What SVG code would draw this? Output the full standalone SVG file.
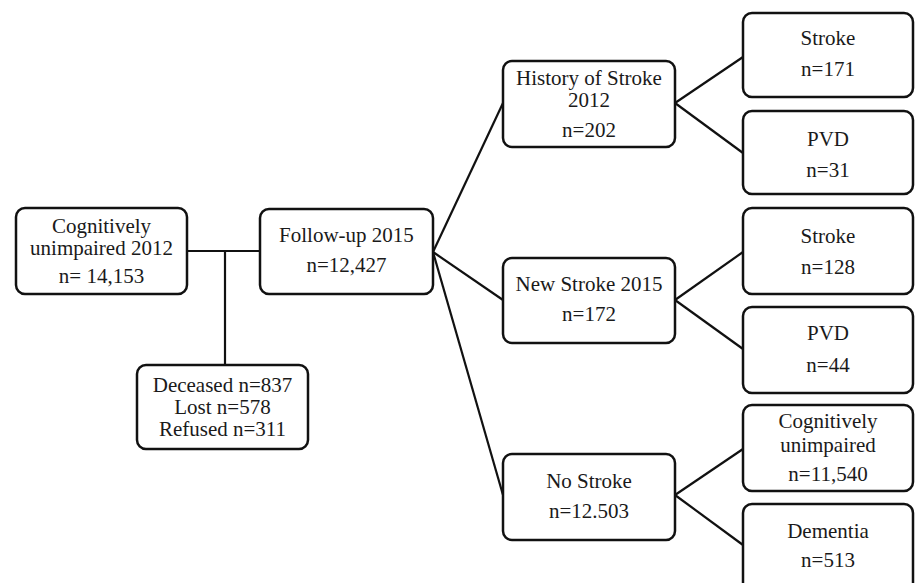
<svg xmlns="http://www.w3.org/2000/svg" width="915" height="583" viewBox="0 0 915 583">
<style>
.box{fill:#fff;stroke:#111;stroke-width:2.5}
.t{font-family:"Liberation Serif","Times New Roman","DejaVu Serif",serif;font-size:21px;fill:#1a1a1a;text-anchor:middle}
.c{stroke:#111;stroke-width:2.2;fill:none}
</style>
<rect width="915" height="583" fill="#fff"/>
<g id="connectors">
<line class="c" x1="187" y1="251" x2="260" y2="251"/>
<line class="c" x1="225" y1="251" x2="225" y2="365"/>
<line class="c" x1="433" y1="252" x2="503" y2="103"/>
<line class="c" x1="433" y1="252" x2="503" y2="300"/>
<line class="c" x1="433" y1="252" x2="503" y2="495"/>
<line class="c" x1="675" y1="103" x2="743" y2="57"/>
<line class="c" x1="675" y1="103" x2="743" y2="153"/>
<line class="c" x1="675" y1="300" x2="743" y2="252"/>
<line class="c" x1="675" y1="300" x2="743" y2="349"/>
<line class="c" x1="675" y1="495" x2="743" y2="449"/>
<line class="c" x1="675" y1="495" x2="743" y2="545"/>
</g>
<g id="baseline2012">
<rect class="box" x="16" y="208" width="171" height="86" rx="9"/>
<text class="t" x="101.5" y="233">Cognitively</text>
<text class="t" x="101.5" y="255">unimpaired 2012</text>
<text class="t" x="101.5" y="283">n= 14,153</text>
</g>
<g id="excluded">
<rect class="box" x="137" y="365" width="171" height="84" rx="9"/>
<text class="t" x="222.5" y="392">Deceased n=837</text>
<text class="t" x="222.5" y="414">Lost n=578</text>
<text class="t" x="222.5" y="436">Refused n=311</text>
</g>
<g id="followup">
<rect class="box" x="260" y="209" width="173" height="85" rx="9"/>
<text class="t" x="346.5" y="242">Follow-up 2015</text>
<text class="t" x="346.5" y="272">n=12,427</text>
</g>
<g id="history">
<rect class="box" x="503" y="61" width="172" height="86" rx="9"/>
<text class="t" x="589" y="85">History of Stroke</text>
<text class="t" x="589" y="107">2012</text>
<text class="t" x="589" y="137">n=202</text>
</g>
<g id="newstroke">
<rect class="box" x="503" y="258" width="172" height="85" rx="9"/>
<text class="t" x="589" y="291">New Stroke 2015</text>
<text class="t" x="589" y="321">n=172</text>
</g>
<g id="nostroke">
<rect class="box" x="503" y="454" width="172" height="86" rx="9"/>
<text class="t" x="589" y="488">No Stroke</text>
<text class="t" x="589" y="518">n=12.503</text>
</g>
<g id="h_stroke">
<rect class="box" x="743" y="13" width="170" height="84" rx="9"/>
<text class="t" x="828" y="45">Stroke</text>
<text class="t" x="828" y="76">n=171</text>
</g>
<g id="h_pvd">
<rect class="box" x="743" y="111" width="170" height="83" rx="9"/>
<text class="t" x="828" y="146">PVD</text>
<text class="t" x="828" y="177">n=31</text>
</g>
<g id="n_stroke">
<rect class="box" x="743" y="208" width="170" height="86" rx="9"/>
<text class="t" x="828" y="243">Stroke</text>
<text class="t" x="828" y="274">n=128</text>
</g>
<g id="n_pvd">
<rect class="box" x="743" y="307" width="170" height="86" rx="9"/>
<text class="t" x="828" y="340">PVD</text>
<text class="t" x="828" y="372">n=44</text>
</g>
<g id="ns_cog">
<rect class="box" x="743" y="405" width="170" height="86" rx="9"/>
<text class="t" x="828" y="428">Cognitively</text>
<text class="t" x="828" y="452">unimpaired</text>
<text class="t" x="828" y="481">n=11,540</text>
</g>
<g id="ns_dementia">
<rect class="box" x="743" y="504" width="170" height="90" rx="9"/>
<text class="t" x="828" y="538">Dementia</text>
<text class="t" x="828" y="567">n=513</text>
</g>
</svg>
